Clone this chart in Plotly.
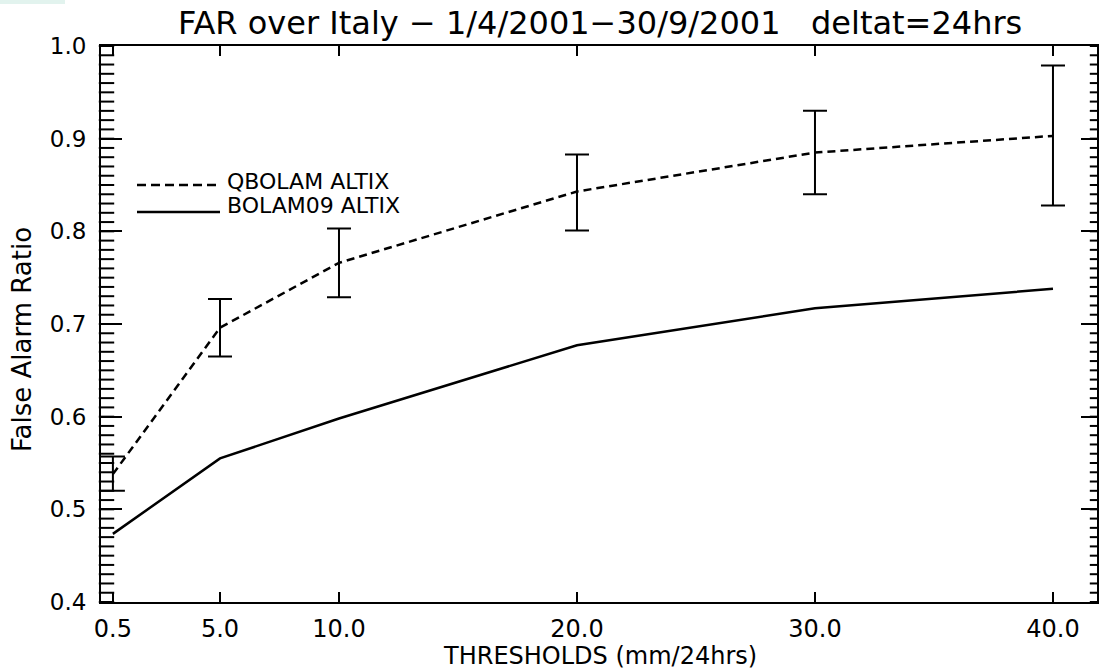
import plotly.graph_objects as go

# ---- data ----
thresholds = [0.5, 5.0, 10.0, 20.0, 30.0, 40.0]
x_tick_labels = ["0.5", "5.0", "10.0", "20.0", "30.0", "40.0"]
qbolam = [0.538, 0.696, 0.766, 0.843, 0.885, 0.903]
qbolam_err_plus = [0.019, 0.031, 0.037, 0.040, 0.045, 0.076]
qbolam_err_minus = [0.018, 0.031, 0.037, 0.042, 0.045, 0.075]
bolam09 = [0.4735, 0.555, 0.598, 0.677, 0.717, 0.738]
x_range = [0, 41.85]
y_range = [0.4, 1.0]
y_major_ticks = [0.4, 0.5, 0.6, 0.7, 0.8, 0.9, 1.0]
y_major_labels = ["0.4", "0.5", "0.6", "0.7", "0.8", "0.9", "1.0"]
y_minor_ticks = [round(0.40 + 0.01 * i, 2) for i in range(61)]
series_names = ["QBOLAM ALTIX", "BOLAM09 ALTIX"]

W, H = 1099, 672
L, R, T, B = 101, 2, 46, 70
PW, PH = W - L - R, H - T - B
UNITS_PER_PX = (x_range[1] - x_range[0]) / PW


def px(x):
    return (x - L) / PW


def py(y):
    return (H - B - y) / PH


FONT = "DejaVu Sans"

fig = go.Figure()

# helper trace so the right axis is drawn
fig.add_trace(go.Scatter(x=[thresholds[0]], y=[y_range[0]], yaxis="y2",
                         mode="markers", marker=dict(opacity=0),
                         showlegend=False, hoverinfo="skip"))

# minor ticks (frame decoration) drawn as horizontal line markers
n = len(y_minor_ticks)
fig.add_trace(go.Scatter(
    x=[x_range[0] + 5.5 * UNITS_PER_PX] * n, y=y_minor_ticks, mode="markers",
    marker=dict(symbol="line-ew", size=11, color="black",
                line=dict(color="black", width=2)),
    cliponaxis=False, showlegend=False, hoverinfo="skip"))
fig.add_trace(go.Scatter(
    x=[x_range[1] - 3 * UNITS_PER_PX] * n, y=y_minor_ticks, mode="markers",
    marker=dict(symbol="line-ew", size=6, color="black",
                line=dict(color="black", width=2)),
    cliponaxis=False, showlegend=False, hoverinfo="skip"))

fig.add_trace(go.Scatter(
    x=thresholds, y=qbolam, mode="lines",
    line=dict(color="black", width=2.5, dash="8px,5px"),
    error_y=dict(type="data", array=qbolam_err_plus, arrayminus=qbolam_err_minus,
                 visible=True, color="black", thickness=2, width=12),
    cliponaxis=False, showlegend=False, name=series_names[0]))

fig.add_trace(go.Scatter(
    x=thresholds, y=bolam09, mode="lines",
    line=dict(color="black", width=2.5),
    cliponaxis=False, showlegend=False, name=series_names[1]))

tick_common = dict(range=y_range, showgrid=False, zeroline=False,
                   tickcolor="black", tickwidth=2)

fig.update_layout(
    width=W, height=H,
    margin=dict(l=L, r=R, t=T, b=B),
    paper_bgcolor="white", plot_bgcolor="white",
    font=dict(family=FONT, color="black"),
    xaxis=dict(range=x_range, tickmode="array", tickvals=thresholds,
               ticktext=x_tick_labels, ticks="inside", ticklen=10, tickwidth=2,
               tickcolor="black", showline=True, linecolor="black", linewidth=2,
               mirror="ticks", showgrid=False, zeroline=False,
               tickfont=dict(size=24, family=FONT), ticklabelstandoff=4),
    yaxis=dict(tickmode="array", tickvals=y_major_ticks, ticktext=y_major_labels,
               ticks="inside", ticklen=21,
               showline=True, linecolor="black", linewidth=2, mirror=False,
               tickfont=dict(size=23, family=FONT), ticklabelstandoff=8,
               **tick_common),
    yaxis2=dict(overlaying="y", side="right", tickmode="array",
                tickvals=y_major_ticks, showticklabels=False,
                ticks="inside", ticklen=16,
                showline=True, linecolor="black", linewidth=2,
                **tick_common),
)

# legend drawn manually
fig.add_shape(type="line", xref="paper", yref="paper",
              x0=px(137), x1=px(220), y0=py(185), y1=py(185),
              line=dict(color="black", width=2.5, dash="9px,5px"))
fig.add_shape(type="line", xref="paper", yref="paper",
              x0=px(137), x1=px(220), y0=py(212), y1=py(212),
              line=dict(color="black", width=2.5))
fig.add_annotation(text=series_names[0], xref="paper", yref="paper",
                   x=px(225), y=py(181), xanchor="left", yanchor="middle",
                   showarrow=False, font=dict(size=22, family=FONT))
fig.add_annotation(text=series_names[1], xref="paper", yref="paper",
                   x=px(225), y=py(205), xanchor="left", yanchor="middle",
                   showarrow=False, font=dict(size=22, family=FONT))

# title and axis titles
fig.add_annotation(text="FAR over Italy \u2212 1/4/2001\u221230/9/2001\u00a0\u00a0 deltat=24hrs",
                   xref="paper", yref="paper", x=px(600), y=py(23),
                   xanchor="center", yanchor="middle", showarrow=False,
                   font=dict(size=32, family=FONT))
fig.add_annotation(text="THRESHOLDS (mm/24hrs)", xref="paper", yref="paper",
                   x=px(600), y=py(656), xanchor="center", yanchor="middle",
                   showarrow=False, font=dict(size=24, family=FONT))
fig.add_annotation(text="False Alarm Ratio", xref="paper", yref="paper",
                   x=px(22), y=py(340), xanchor="center", yanchor="middle",
                   textangle=-90, showarrow=False, font=dict(size=26, family=FONT))

# pale strip in the top-left corner
fig.add_shape(type="rect", xref="paper", yref="paper",
              x0=px(0), x1=px(65), y0=py(0), y1=py(4),
              line=dict(width=0), fillcolor="#e2f3ee", layer="below")

fig.write_html("out.html")
